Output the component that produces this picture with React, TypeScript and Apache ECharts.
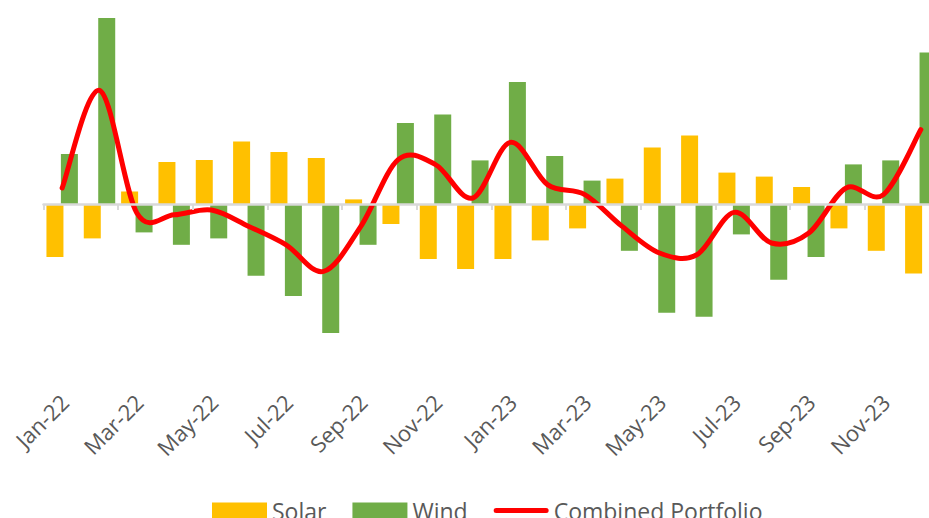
import React, { useEffect, useRef } from "react";
import * as echarts from "echarts";

const categories = [
  "Jan-22", "Feb-22", "Mar-22", "Apr-22", "May-22", "Jun-22", "Jul-22", "Aug-22", "Sep-22", "Oct-22", "Nov-22", "Dec-22",
  "Jan-23", "Feb-23", "Mar-23", "Apr-23", "May-23", "Jun-23", "Jul-23", "Aug-23", "Sep-23", "Oct-23", "Nov-23", "Dec-23",
];

const solar = [
  -2.65, -1.72, 0.63, 2.1, 2.2, 3.12, 2.6, 2.3, 0.23, -1.0, -2.75, -3.25,
  -2.75, -1.82, -1.22, 1.27, 2.82, 3.43, 1.57, 1.37, 0.85, -1.22, -2.34, -3.47,
];

const wind = [
  2.5, 9.3, -1.42, -2.04, -1.72, -3.59, -4.6, -6.45, -2.04, 4.05, 4.47, 2.18,
  6.1, 2.4, 1.17, -2.34, -5.44, -5.64, -1.52, -3.79, -2.65, 1.98, 2.18, 7.57,
];

const combined = [
  0.8, 5.68, -0.45, -0.54, -0.3, -1.12, -2.04, -3.37, -1.12, 2.22, 1.97, 0.3,
  3.08, 0.97, 0.47, -1.12, -2.45, -2.54, -0.42, -1.95, -1.45, 0.8, 0.47, 3.72,
];

const TEXT = "#595959";
const FONT = "'Open Sans', 'Liberation Sans', sans-serif";
const LINE_ICON =
  "path://M2.5,0 L52.5,0 A2.5,2.5 0 0 1 52.5,5 L2.5,5 A2.5,2.5 0 0 1 2.5,0 Z";

// Smooth curve through the points (Catmull-Rom style, as in spreadsheet "smoothed line")
function smoothPath(pts: number[][]): string {
  if (!pts.length) return "";
  let d = `M${pts[0][0]},${pts[0][1]}`;
  for (let i = 0; i < pts.length - 1; i++) {
    const p0 = pts[i - 1] || pts[i];
    const p1 = pts[i];
    const p2 = pts[i + 1];
    const p3 = pts[i + 2] || p2;
    const c1x = p1[0] + (p2[0] - p0[0]) / 6;
    const c1y = p1[1] + (p2[1] - p0[1]) / 6;
    const c2x = p2[0] - (p3[0] - p1[0]) / 6;
    const c2y = p2[1] - (p3[1] - p1[1]) / 6;
    d += ` C${c1x},${c1y} ${c2x},${c2y} ${p2[0]},${p2[1]}`;
  }
  return d;
}

export default function App() {
  const ref = useRef<HTMLDivElement>(null);
  useEffect(() => {
    if (!ref.current) return;
    const chart = echarts.init(ref.current, undefined, { renderer: "svg" });
    chart.setOption({
      animation: false,
      backgroundColor: "#ffffff",
      grid: [
        { left: 43.5, width: 896, top: 4, height: 400 },
        { left: 45.5, width: 896, top: 4, height: 392 },
      ],
      xAxis: [
        {
          type: "category",
          gridIndex: 0,
          data: categories,
          z: 10,
          axisLine: { onZero: true, lineStyle: { color: "#D9D9D9", width: 2.5 } },
          axisTick: { show: true, interval: 1, length: 6, lineStyle: { color: "#D9D9D9", width: 2 } },
          axisLabel: { show: false },
          splitLine: { show: false },
        },
        {
          type: "category",
          gridIndex: 1,
          data: categories,
          axisLine: { show: false, onZero: false },
          axisTick: { show: false },
          axisLabel: {
            show: true,
            interval: 1,
            rotate: 45,
            margin: 2,
            color: TEXT,
            fontSize: 22,
            fontFamily: FONT,
            hideOverlap: false,
          },
        },
      ],
      yAxis: [
        { type: "value", gridIndex: 0, min: -10, max: 10, show: false, splitLine: { show: false } },
        { type: "value", gridIndex: 1, min: 0, max: 1, show: false, splitLine: { show: false } },
      ],
      legend: {
        left: 212,
        top: 499,
        padding: 0,
        itemWidth: 55,
        itemHeight: 16,
        itemGap: 26,
        textStyle: { color: TEXT, fontSize: 23, fontFamily: FONT },
        data: [
          { name: "Solar", icon: "rect" },
          { name: "Wind", icon: "rect" },
          { name: "Combined Portfolio", icon: LINE_ICON, itemStyle: { color: "#FF0000" } },
        ],
      },
      series: [
        {
          name: "Solar",
          type: "bar",
          xAxisIndex: 0,
          yAxisIndex: 0,
          data: solar,
          barWidth: 17,
          barGap: "-15%",
          itemStyle: { color: "#FFC000" },
        },
        {
          name: "Wind",
          type: "bar",
          xAxisIndex: 0,
          yAxisIndex: 0,
          data: wind,
          barWidth: 17,
          barGap: "-15%",
          itemStyle: { color: "#70AD47" },
        },
        {
          name: "Combined Portfolio",
          type: "custom",
          xAxisIndex: 0,
          yAxisIndex: 0,
          z: 5,
          itemStyle: { color: "#FF0000" },
          data: combined.map((v, i) => [i, v]),
          renderItem: (params: any, api: any) => {
            if (params.dataIndex !== 0) return null;
            const pts = combined.map((v, i) => api.coord([i, v]));
            return {
              type: "path",
              shape: { pathData: smoothPath(pts) },
              style: {
                fill: "none",
                stroke: "#FF0000",
                lineWidth: 5,
                lineCap: "round",
                lineJoin: "round",
              },
            };
          },
        },
      ],
    });
    return () => chart.dispose();
  }, []);
  return <div ref={ref} style={{ width: 945, height: 518, position: "fixed", left: 0, top: 0 }} />;
}
